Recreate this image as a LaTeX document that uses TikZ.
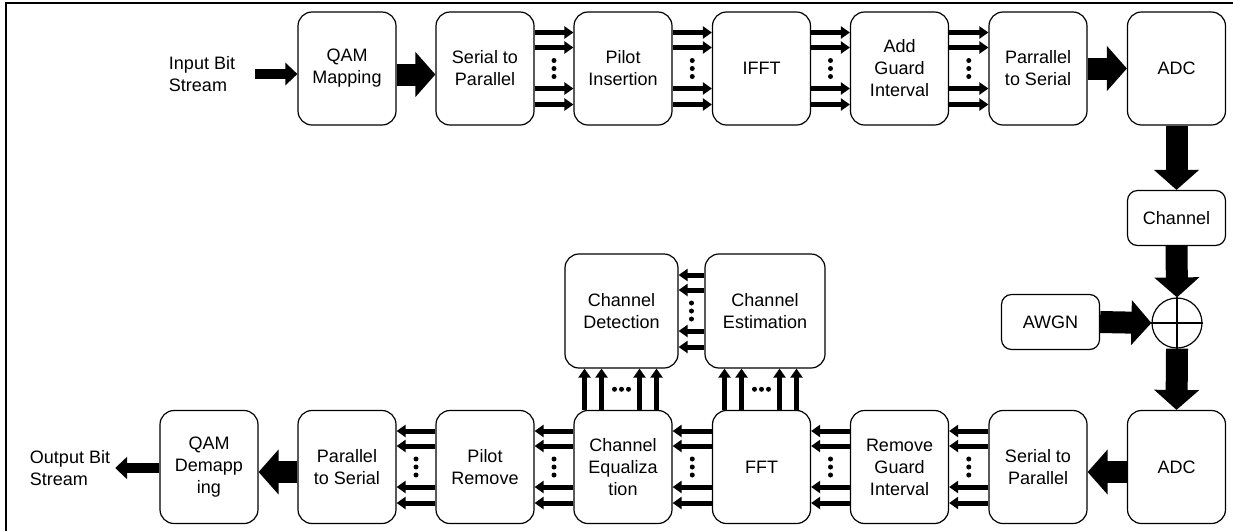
\documentclass[tikz,border=0pt]{standalone}
\usepackage{fontspec}
\setmainfont{Liberation Sans}
\usetikzlibrary{arrows.meta, calc}
\newcommand{\blkfont}{\fontsize{18}{22}\selectfont}
\tikzstyle{block} = [draw=black, line width=1.2, rounded corners=14,
    minimum width=98, minimum height=113, inner sep=2,
    align=center, font=\blkfont]
\tikzstyle{shortblock} = [block, minimum height=55, rounded corners=10]
\tikzstyle{txt} = [inner sep=0, align=left, font=\blkfont]
\tikzstyle{bus} = [line width=5, -{Triangle[length=9pt,width=12pt]}]
\tikzstyle{fat} = [line width=22, -{Triangle[length=20pt,width=44pt]}]
\tikzstyle{io} = [line width=10, -{Triangle[length=12pt,width=22pt]}]

\begin{document}
\begin{tikzpicture}[x=1pt, y=-1pt]
\useasboundingbox (0,0) rectangle (1233,531);
\draw[line width=1.5] (6,531) -- (6,3) -- (1233,3);

    % 1. Transmitter row
    \node[txt] (in) at (202,74) {Input Bit\\Stream};
    \node[block] (qam) at (347,68.5) {QAM\\Mapping};
    \node[block] (sp1) at (485,68.5) {Serial to\\Parallel};
    \node[block] (pins) at (623,68.5) {Pilot\\Insertion};
    \node[block] (ifft) at (761.5,68.5) {IFFT};
    \node[block] (agi) at (899.5,68.5) {Add\\Guard\\Interval};
    \node[block] (ps1) at (1038,68.5) {Parrallel\\to Serial};
    \node[block] (adc1) at (1176.5,68.5) {ADC};

    % 2. Channel and noise
    \node[shortblock] (ch) at (1176.5,218) {Channel};
    \node[circle, draw, line width=1.2, minimum size=50, inner sep=0] (sum) at (1177,323) {};
    \draw[line width=1.2] (sum.north) -- (sum.south) (sum.west) -- (sum.east);
    \node[shortblock] (awgn) at (1050.5,322) {AWGN};

    % 3. Receiver row
    \node[block] (adc2) at (1176.5,467) {ADC};
    \node[block] (sp2) at (1038,467) {Serial to\\Parallel};
    \node[block] (rgi) at (899.5,467) {Remove\\Guard\\Interval};
    \node[block] (fft) at (761.5,467) {FFT};
    \node[block] (equ) at (623,467) {Channel\\Equaliza\\tion};
    \node[block] (prem) at (485,467) {Pilot\\Remove};
    \node[block] (ps2) at (347,467) {Parallel\\to Serial};
    \node[block] (qdem) at (209,467) {QAM\\Demapp\\ing};
    \node[txt] (out) at (70,468) {Output Bit\\Stream};
    \node[block, minimum width=113, minimum height=114] (det) at (621.5,311) {Channel\\Detection};
    \node[block, minimum width=120, minimum height=114] (est) at (765,311) {Channel\\Estimation};

    % 4. Connections
    \draw[io] ([xshift=20pt]in.east) -- (in.east -| qam.west);
    \draw[fat] ([yshift=-6pt]qam.east) -- ([yshift=-6pt]sp1.west);
    \foreach \a/\b in {sp1.east/pins.west, pins.east/ifft.west, ifft.east/agi.west,
        agi.east/ps1.west, sp2.west/rgi.east, rgi.west/fft.east, fft.west/equ.east,
        equ.west/prem.east, prem.west/ps2.east, est.west/det.east}{
      \foreach \d in {36,21,-20,-36}
        \draw[bus] ([yshift=\d pt]\a) -- ([yshift=\d pt]\b);
      \foreach \d in {-8,0,8}
        \fill ($(\a)!0.5!(\b)$) ++(0,\d) circle (2.5pt);
    }
    \draw[fat] (ps1.east) -- (adc1.west);
    \draw[fat] (adc1.south) -- (ch.north);
    \draw[fat] (ch.south) -- (sum.north);
    \draw[fat] (awgn.east) -- (sum.west);
    \draw[fat] (sum.south) -- (adc2.north);
    \draw[fat] ([yshift=-5pt]adc2.west) -- ([yshift=-5pt]sp2.east);
    \draw[fat] ([yshift=-5pt]ps2.west) -- ([yshift=-5pt]qdem.east);
    \draw[io] (qdem.west |- out.east) -- ([xshift=5pt]out.east);

    % up to detection / estimation
    \foreach \d in {-37,-20,18,35}{
      \draw[bus] ([xshift=\d pt]det.south |- equ.north) -- ([xshift=\d pt]det.south);
      \draw[bus] ([xshift=\d pt]fft.north) -- ([xshift=\d pt]fft.north |- est.south);
    }
    \foreach \d in {-7,0,7}{
      \fill ($(det.south)!0.5!(det.south |- equ.north)$) ++(\d,0) circle (2.5pt);
      \fill ($(fft.north)!0.5!(fft.north |- est.south)$) ++(\d,0) circle (2.5pt);
    }

\end{tikzpicture}
\end{document}
